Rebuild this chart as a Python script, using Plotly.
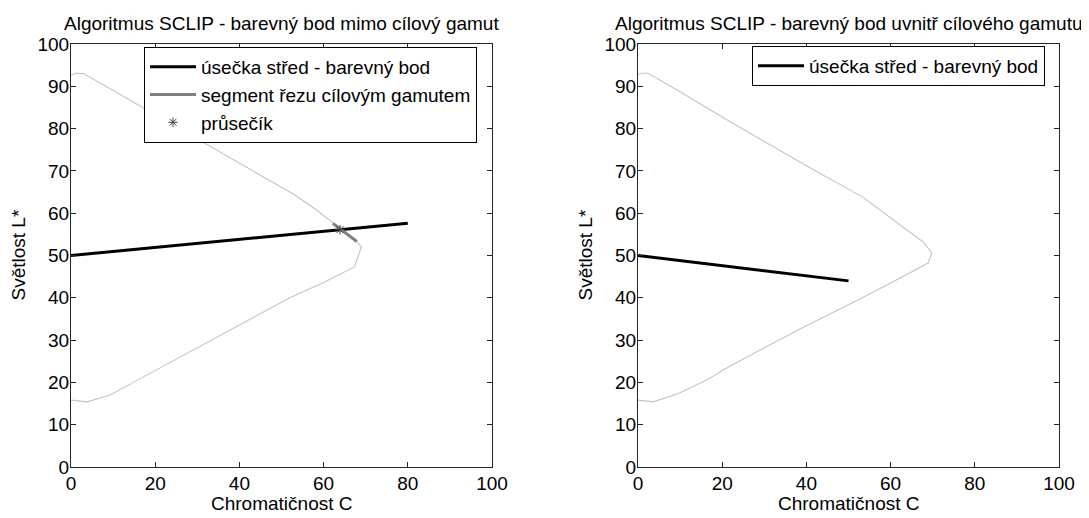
import plotly.graph_objects as go

# ---- data ----
# left panel: gamut slice boundary (chroma C, lightness L)
gamut1_C = [0, 1, 3, 10, 20, 30, 40, 50, 53, 58, 62.5, 65, 68, 69, 67.3, 60, 52, 40, 30, 20, 15.9, 9.3, 3.8, 0]
gamut1_L = [92.6, 93.1, 93.0, 89.0, 83.2, 77.5, 71.7, 66.0, 64.4, 61.0, 57.6, 55.6, 53.2, 52.0, 47.3, 43.6, 40.0, 33.6, 28.2, 22.8, 20.6, 17.0, 15.4, 15.8]
# right panel: gamut slice boundary
gamut2_C = [0, 1, 2.4, 10, 21.9, 30, 40, 53.4, 57.5, 64.6, 67.7, 69.8, 68.9, 60, 52.7, 40, 30, 20, 16.4, 9.5, 3.6, 0]
gamut2_L = [92.8, 93.1, 93.1, 88.7, 81.6, 76.9, 71.2, 63.8, 60.8, 55.6, 53.2, 50.6, 48.2, 43.5, 39.7, 33.4, 28.2, 22.8, 20.6, 17.3, 15.4, 15.8]

# segment centre - colour point
seg1_C = [0, 80]
seg1_L = [50, 57.6]
seg2_C = [0, 50]
seg2_L = [50, 44]

# segment of the target gamut cut (left)
cut_C = [62.2, 67.9]
cut_L = [57.6, 53.3]

# intersection
inter_C = [63.9]
inter_L = [56.1]

titles = ["Algoritmus SCLIP - barevný bod mimo cílový gamut",
          "Algoritmus SCLIP - barevný bod uvnitř cílového gamutu"]
x_title = "Chromatičnost C"
y_title = "Světlost L*"
x_ticks = [0, 20, 40, 60, 80, 100]
y_ticks = [0, 10, 20, 30, 40, 50, 60, 70, 80, 90, 100]

FONT = "Liberation Sans, Arial, sans-serif"
FS = 19
OFF = 8                      # page body margin
W, H = 1089 - 2 * OFF, 518 - OFF


def fx(px):
    return (px - OFF) / W


def fy(py):
    return (H - (py - OFF)) / H


fig = go.Figure()

# left panel
fig.add_trace(go.Scatter(x=gamut1_C, y=gamut1_L, mode="lines",
                         line=dict(color="#c4c4c4", width=1.1), showlegend=False,
                         xaxis="x", yaxis="y", hoverinfo="skip"))
fig.add_trace(go.Scatter(x=seg1_C, y=seg1_L, mode="lines", name="úsečka střed - barevný bod",
                         line=dict(color="black", width=3), xaxis="x", yaxis="y", legend="legend"))
fig.add_trace(go.Scatter(x=cut_C, y=cut_L, mode="lines", name="segment řezu cílovým gamutem",
                         line=dict(color="#808080", width=3), xaxis="x", yaxis="y", legend="legend"))
fig.add_trace(go.Scatter(x=inter_C, y=inter_L, mode="markers", name="průsečík",
                         marker=dict(symbol="asterisk-open", size=8, color="#444444",
                                     line=dict(color="#444444", width=1)),
                         xaxis="x", yaxis="y", legend="legend"))

# right panel
fig.add_trace(go.Scatter(x=gamut2_C, y=gamut2_L, mode="lines",
                         line=dict(color="#c4c4c4", width=1.1), showlegend=False,
                         xaxis="x2", yaxis="y2", hoverinfo="skip"))
fig.add_trace(go.Scatter(x=seg2_C, y=seg2_L, mode="lines", name="úsečka střed - barevný bod",
                         line=dict(color="black", width=3), xaxis="x2", yaxis="y2", legend="legend2"))

ydom = [fy(467), fy(44)]
xdom1 = [fx(71), fx(492)]
xdom2 = [fx(638), fx(1059)]

axis_common = dict(range=[0, 100], ticks="inside", ticklen=5,
                   tickcolor="#262626", showline=True, linecolor="#262626", linewidth=1,
                   mirror="ticks", showgrid=False, zeroline=False, automargin=False,
                   tickfont=dict(family=FONT, size=FS, color="black"))

txt = dict(xref="paper", yref="paper", showarrow=False, font=dict(family=FONT, size=FS, color="black"))
annotations = []
for xd, title in zip([xdom1, xdom2], titles):
    xc = (xd[0] + xd[1]) / 2
    annotations.append(dict(text=title, x=xc, y=fy(23), xanchor="center", yanchor="middle", **txt))
    annotations.append(dict(text=x_title, x=xc, y=fy(503), xanchor="center", yanchor="middle", **txt))
for xpage in [18, 585]:
    annotations.append(dict(text=y_title, x=fx(xpage), y=(ydom[0] + ydom[1]) / 2, textangle=-90,
                            xanchor="center", yanchor="middle", **txt))

fig.update_layout(
    template="none",
    width=W, height=H,
    margin=dict(l=0, r=0, t=0, b=0),
    paper_bgcolor="white", plot_bgcolor="white",
    font=dict(family=FONT, size=FS, color="black"),
    xaxis=dict(domain=xdom1, anchor="y", tickvals=x_ticks, ticklabelstandoff=-1, **axis_common),
    yaxis=dict(domain=ydom, anchor="x", tickvals=y_ticks, ticklabelstandoff=-3, **axis_common),
    xaxis2=dict(domain=xdom2, anchor="y2", tickvals=x_ticks, ticklabelstandoff=-1, **axis_common),
    yaxis2=dict(domain=ydom, anchor="x2", tickvals=y_ticks, ticklabelstandoff=-3, **axis_common),
    legend=dict(x=fx(144), y=fy(47), xanchor="left", yanchor="top",
                bgcolor="white", bordercolor="black", borderwidth=1,
                font=dict(family=FONT, size=FS), tracegroupgap=0, itemwidth=46),
    legend2=dict(x=fx(752), y=fy(46), xanchor="left", yanchor="top",
                 bgcolor="white", bordercolor="black", borderwidth=1,
                 font=dict(family=FONT, size=FS), itemwidth=46),
    annotations=annotations,
)

fig.write_html("out.html")
